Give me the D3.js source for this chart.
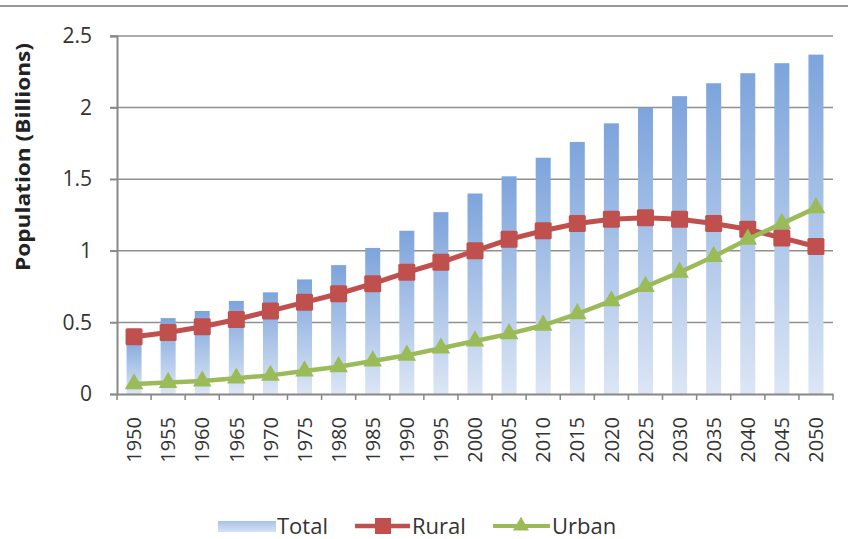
<!DOCTYPE html>
<html>
<head>
<meta charset="utf-8">
<script src="https://cdn.jsdelivr.net/npm/d3@7"></script>
<style>
  body { margin: 0; background: #fff; }
  svg text { font-family: "Open Sans", Lato, sans-serif; fill: #333; }
</style>
</head>
<body>
<svg width="848" height="539"></svg>
<script>
// values (billions)
var years = ["1950","1955","1960","1965","1970","1975","1980","1985","1990","1995","2000",
             "2005","2010","2015","2020","2025","2030","2035","2040","2045","2050"];
var total = [0.40,0.53,0.58,0.65,0.71,0.80,0.90,1.02,1.14,1.27,1.40,
             1.52,1.65,1.76,1.89,2.00,2.08,2.17,2.24,2.31,2.37];
var rural = [0.40,0.43,0.47,0.52,0.58,0.64,0.70,0.77,0.85,0.92,1.00,
             1.08,1.14,1.19,1.22,1.23,1.22,1.19,1.15,1.09,1.03];
var urban = [0.07,0.08,0.09,0.11,0.13,0.16,0.19,0.23,0.27,0.32,0.37,
             0.42,0.48,0.56,0.65,0.75,0.85,0.96,1.08,1.19,1.30];
var yTicks = [0, 0.5, 1, 1.5, 2, 2.5];
var legendNames = ["Total", "Rural", "Urban"];

var svg = d3.select("svg"),
    margin = {top: 36, right: 15, bottom: 145, left: 117},
    width = 848 - margin.left - margin.right,
    height = 539 - margin.top - margin.bottom;

var red = "#c0504d", green = "#9bbb59";

// gradient for the bars
var defs = svg.append("defs");
var grad = defs.append("linearGradient")
    .attr("id", "barGrad")
    .attr("x1", 0).attr("y1", 0).attr("x2", 0).attr("y2", 1);
grad.append("stop").attr("offset", "0%").attr("stop-color", "#7da4dc");
grad.append("stop").attr("offset", "100%").attr("stop-color", "#dce6f5");

var gradL = defs.append("linearGradient")
    .attr("id", "legGrad")
    .attr("x1", 0).attr("y1", 0).attr("x2", 0).attr("y2", 1);
gradL.append("stop").attr("offset", "0%").attr("stop-color", "#a9c2e8");
gradL.append("stop").attr("offset", "100%").attr("stop-color", "#d6e2f4");

// top frame line
svg.append("line")
    .attr("x1", 0).attr("x2", 848).attr("y1", 6).attr("y2", 6)
    .style("stroke", "#999").style("stroke-width", 2);

var g = svg.append("g").attr("transform", "translate(" + margin.left + "," + margin.top + ")");

var x = d3.scaleBand().domain(years).range([0, width]);
var y = d3.scaleLinear().domain([0, 2.5]).range([height, 0]);

// gridlines
g.append("g")
    .selectAll("line")
    .data(yTicks.filter(function(d) { return d > 0; }))
    .enter().append("line")
    .attr("x1", -7).attr("x2", width)
    .attr("y1", function(d) { return y(d); })
    .attr("y2", function(d) { return y(d); })
    .style("stroke", "#8f8f8f").style("stroke-width", 1.5);

// y axis
var yAxis = g.append("g")
    .call(d3.axisLeft(y).tickValues(yTicks).tickSize(7).tickPadding(18)
        .tickFormat(function(d) { return d; }));
yAxis.select(".domain").style("stroke", "#888").style("stroke-width", 2);
yAxis.selectAll(".tick line").style("stroke", "#888").style("stroke-width", 1.5);
yAxis.selectAll("text").style("font-size", "21px").style("fill", "#333");

// bars
var barW = 15;
g.selectAll(".bar")
    .data(total)
    .enter().append("rect")
    .attr("class", "bar")
    .attr("x", function(d, i) { return x(years[i]) + x.bandwidth() / 2 - barW / 2; })
    .attr("width", barW)
    .attr("y", function(d) { return y(d); })
    .attr("height", function(d) { return height - y(d); })
    .attr("fill", "url(#barGrad)");

// x axis
var xAxis = g.append("g")
    .attr("transform", "translate(0," + height + ")")
    .call(d3.axisBottom(x).tickSize(0).tickPadding(0));
xAxis.select(".domain").style("stroke", "#888").style("stroke-width", 2);
xAxis.selectAll("text")
    .attr("transform", "rotate(-90)")
    .attr("dy", "0.36em")
    .attr("x", -23)
    .attr("y", 0)
    .style("text-anchor", "end")
    .style("font-size", "20px")
    .style("fill", "#333");
// tick marks between categories
xAxis.selectAll(".sep")
    .data(d3.range(years.length + 1))
    .enter().append("line")
    .attr("class", "sep")
    .attr("x1", function(i) { return i * x.step(); })
    .attr("x2", function(i) { return i * x.step(); })
    .attr("y1", 0).attr("y2", 6)
    .style("stroke", "#888").style("stroke-width", 1.5);

var cx = function(d, i) { return x(years[i]) + x.bandwidth() / 2; };

var line = d3.line()
    .x(function(d, i) { return cx(d, i); })
    .y(function(d) { return y(d); });

// rural line
g.append("path").datum(rural)
    .attr("d", line)
    .attr("fill", "none")
    .style("stroke", red).style("stroke-width", 5);

g.selectAll(".sq")
    .data(rural)
    .enter().append("rect")
    .attr("class", "sq")
    .attr("x", function(d, i) { return cx(d, i) - 8.5; })
    .attr("y", function(d) { return y(d) - 8.5; })
    .attr("width", 17).attr("height", 17)
    .attr("rx", 1.5)
    .attr("fill", red);

// urban line
g.append("path").datum(urban)
    .attr("d", line)
    .attr("fill", "none")
    .style("stroke", green).style("stroke-width", 4.5);

var tri = d3.symbol().type(d3.symbolTriangle).size(150);
g.selectAll(".tri")
    .data(urban)
    .enter().append("path")
    .attr("class", "tri")
    .attr("d", tri)
    .attr("transform", function(d, i) { return "translate(" + cx(d, i) + "," + y(d) + ")"; })
    .attr("fill", green);

// y axis title
svg.append("text")
    .attr("transform", "translate(30,157) rotate(-90)")
    .style("text-anchor", "middle")
    .style("font-size", "19px")
    .style("font-weight", "bold")
    .style("fill", "#222")
    .attr("textLength", 228)
    .attr("lengthAdjust", "spacingAndGlyphs")
    .text("Population  (Billions)");

// legend
var leg = svg.append("g").attr("transform", "translate(0,526)");
leg.append("rect")
    .attr("x", 218).attr("y", -5).attr("width", 58).attr("height", 11)
    .attr("fill", "url(#legGrad)");
leg.append("text").attr("x", 277).attr("y", 0).attr("dy", "0.36em")
    .style("font-size", "22px").text(legendNames[0]);

leg.append("line").attr("x1", 355).attr("x2", 410).attr("y1", 0).attr("y2", 0)
    .style("stroke", red).style("stroke-width", 4.5);
leg.append("rect").attr("x", 375).attr("y", -8).attr("width", 16).attr("height", 16)
    .attr("fill", red);
leg.append("text").attr("x", 412).attr("y", 0).attr("dy", "0.36em")
    .style("font-size", "22px").text(legendNames[1]);

leg.append("line").attr("x1", 493).attr("x2", 550).attr("y1", 0).attr("y2", 0)
    .style("stroke", green).style("stroke-width", 4);
leg.append("path").attr("d", d3.symbol().type(d3.symbolTriangle).size(110))
    .attr("transform", "translate(521,0)").attr("fill", green);
leg.append("text").attr("x", 552).attr("y", 0).attr("dy", "0.36em")
    .style("font-size", "22px").text(legendNames[2]);
</script>
</body>
</html>
